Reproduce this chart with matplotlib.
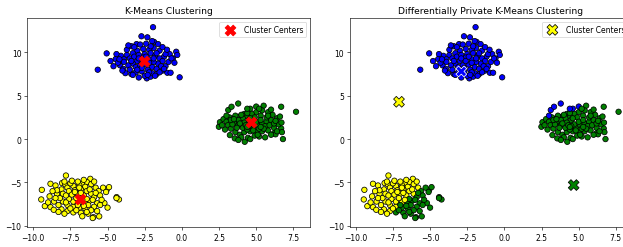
import matplotlib
matplotlib.use("Agg")
import matplotlib.pyplot as plt
import numpy as np

# points, one list per blob
blue_x = [-1.94, -2.72, -2.32, -1.87, -1.6, -3.39, -3.05, -5.06, -5.66, -0.15, -0.38, -0.31,
          -0.82, -0.6, -0.98, -0.76, -4.45, -4.05, -4.16, -3.94, -3.8, -3.4, -2.36, -2.1,
          -1.7, -1.3, -1.1, -0.9, -1.2, -1.5, -1.9, -2.2, -2.6, -3.0, -3.3, -3.7, -4.1,
          -3.9, -3.5, -3.2, -2.9, -2.5, -2.1, -1.8, -1.5, -1.3, -1.6, -1.9, -2.2, -2.6,
          -3.0, -3.3, -3.6, -4.3, -4.6, -3.1, -2.8, -2.4, -2.0, -1.7, -1.4, -2.3, -2.7,
          -3.1, -3.5, -2.0, -2.5, -1.5, -3.7, -2.8, -2.4, -2.0, -1.3, -0.7, -1.1, -4.4,
          -4.8, -2.9, -2.2, -1.9, -2.6, -3.4, -2.7, -1.2, -3.9, -4.2, -0.5, -1.0, -3.6,
          -2.1, -3.2, -1.7, -2.4, -3.0, -4.0, -2.2, -1.8, -3.3, -2.9, -2.3]
blue_y = [12.9, 11.85, 11.73, 11.2, 10.95, 10.7, 10.95, 9.88, 8.0, 7.12, 10.07, 9.7,
          9.8, 9.3, 7.65, 7.65, 9.23, 9.0, 8.5, 8.1, 7.6, 7.5, 7.0, 7.2,
          7.5, 7.9, 8.4, 8.9, 9.5, 10.2, 10.5, 10.3, 10.4, 10.2, 9.9, 9.7, 9.6,
          9.2, 9.3, 9.5, 9.7, 9.8, 9.9, 9.6, 9.3, 9.0, 8.7, 8.9, 9.2, 9.4,
          9.0, 8.7, 8.5, 8.8, 8.4, 8.3, 8.5, 8.6, 8.3, 8.1, 8.4, 8.0, 7.8,
          7.7, 8.0, 7.6, 7.3, 7.7, 10.3, 10.9, 11.0, 11.3, 10.6, 9.3, 9.8, 9.8,
          9.0, 9.3, 8.8, 9.3, 9.0, 9.0, 8.2, 8.1, 8.9, 9.2, 8.8, 10.3, 10.8,
          10.7, 10.6, 9.9, 9.5, 8.0, 7.9, 7.7, 7.3, 7.4, 7.1, 7.4]

green_x = [7.68, 6.68, 3.79, 3.12, 3.34, 2.49, 2.56, 2.8, 3.23, 3.56, 4.23, 4.45,
           6.68, 6.73, 6.8, 6.19, 6.3, 5.6, 5.2, 5.5, 5.0, 4.6, 4.2, 3.9,
           3.5, 3.2, 3.0, 3.1, 3.3, 3.6, 3.9, 4.2, 4.6, 5.0, 5.4, 5.8,
           6.2, 6.5, 6.7, 6.4, 6.1, 5.8, 5.4, 5.0, 4.7, 4.4, 4.1, 3.8,
           3.5, 3.8, 4.1, 4.4, 4.8, 5.1, 5.4, 5.7, 6.0, 5.7, 5.3, 4.9,
           4.5, 4.2, 3.9, 4.3, 4.7, 5.0, 5.3, 5.6, 5.9, 6.2, 6.0, 5.2,
           4.9, 4.0, 3.4, 2.9, 2.7, 3.6, 4.4, 5.2, 6.0, 6.3, 4.6, 4.0,
           3.3, 4.8, 5.5, 4.5, 3.7, 5.8, 6.6, 4.4, 3.0, 5.1, 4.6, 3.8,
           4.4, 3.5, 5.3, 6.4]
green_y = [3.15, 3.73, 4.1, 3.35, 3.73, 1.42, 1.95, 2.3, 0.46, 0.08, -0.31, 0.15,
           1.23, 0.8, 0.0, 0.66, 0.55, 0.2, 0.3, 3.85, 3.75, 3.5, 2.9, 2.6,
           2.4, 2.5, 2.0, 1.6, 1.2, 0.8, 0.5, 0.8, 0.9, 0.8, 0.9, 1.0,
           1.3, 1.7, 1.9, 2.4, 2.8, 3.1, 3.3, 3.1, 2.9, 2.6, 2.4, 2.2,
           1.9, 1.6, 1.3, 1.1, 1.3, 1.6, 1.8, 2.0, 2.2, 2.5, 2.7, 2.5,
           2.2, 1.9, 1.8, 1.6, 1.7, 2.0, 2.2, 1.5, 1.6, 1.8, 0.5, 1.2,
           0.4, 0.2, 1.7, 1.1, 1.6, 2.7, 3.0, 3.5, 3.4, 2.1, 2.4, 2.8,
           2.2, 1.0, 1.2, 1.5, 1.3, 2.7, 2.6, 3.5, 2.7, 0.5, 0.0, -0.1,
           1.4, 2.3, 1.4, 0.9]

yellow_x = [-7.8, -9.42, -9.46, -9.22, -8.84, -8.5, -8.06, -7.84, -8.84, -8.62, -6.16, -6.39,
            -6.72, -5.06, -4.9, -5.21, -4.39, -4.23, -5.95, -5.56, -6.3, -6.8, -7.3, -7.7,
            -8.1, -8.3, -8.6, -8.9, -8.4, -8.1, -7.7, -7.3, -6.9, -6.5, -6.1, -5.8,
            -5.6, -5.5, -5.4, -5.7, -5.9, -6.1, -6.5, -6.9, -7.3, -7.7, -8.0, -8.2,
            -8.0, -7.6, -7.2, -6.8, -6.4, -6.1, -5.9, -6.2, -6.5, -6.9, -7.3, -7.6,
            -7.8, -7.4, -7.0, -6.6, -6.4, -6.7, -7.1, -7.0, -6.3, -5.7, -7.5, -8.4,
            -7.9, -7.0, -6.6, -5.3, -5.1, -4.4, -5.0, -6.7, -7.9, -9.0, -8.7, -7.5,
            -6.2, -5.8, -6.0, -7.2, -7.8, -8.5, -6.8, -6.4, -7.1, -5.5, -6.9, -7.4,
            -5.9, -8.3, -6.0, -6.6]
yellow_y = [-4.2, -5.85, -6.96, -7.73, -5.15, -5.35, -5.07, -5.23, -7.84, -8.15, -4.58, -4.96,
            -5.15, -5.85, -5.54, -7.38, -6.69, -6.96, -9.0, -8.91, -8.6, -8.5, -8.45, -8.3,
            -8.1, -7.6, -7.2, -6.6, -6.3, -5.8, -5.6, -5.4, -5.3, -5.5, -5.2, -5.6,
            -6.0, -6.5, -7.0, -7.4, -7.8, -8.2, -8.0, -7.9, -7.8, -7.6, -7.2, -6.8,
            -6.3, -6.0, -5.9, -5.8, -6.0, -6.3, -6.7, -7.1, -7.4, -7.3, -7.2, -6.9,
            -6.5, -6.4, -6.3, -6.5, -6.9, -7.0, -6.8, -7.6, -7.6, -8.3, -8.0, -5.9,
            -4.9, -4.9, -4.7, -5.6, -6.1, -6.8, -7.9, -8.9, -8.6, -7.3, -6.0, -5.1,
            -5.8, -6.2, -7.0, -6.1, -7.3, -6.8, -6.2, -8.4, -8.2, -7.6, -5.6, -4.8,
            -4.9, -8.4, -9.1, -7.7]

# cluster centres (order: yellow, blue, green)
km_centers_x = [-6.82, -2.54, 4.65]
km_centers_y = [-6.85, 9.04, 1.92]
dp_centers_x = [-7.09, -2.9, 4.66]
dp_centers_y = [4.3, 7.8, -5.3]
label_colors = ['yellow', 'blue', 'green']
dp_edge = ['k', 'w', 'k']

X = np.column_stack([np.concatenate([yellow_x, blue_x, green_x]),
                     np.concatenate([yellow_y, blue_y, green_y])])


def assign(points, cx, cy):
    c = np.column_stack([cx, cy])
    d = ((points[:, None, :] - c[None, :, :]) ** 2).sum(axis=2)
    return d.argmin(axis=1)


km_labels = assign(X, km_centers_x, km_centers_y)
dp_labels = assign(X, dp_centers_x, dp_centers_y)

DPI = 55
fig = plt.figure(figsize=(623 / DPI, 248 / DPI), dpi=DPI)
ax1 = fig.add_axes([0.0433, 0.0794, 0.4543, 0.844])
ax2 = fig.add_axes([0.561, 0.0794, 0.4543, 0.844])

ax1.scatter(X[:, 0], X[:, 1], c=[label_colors[i] for i in km_labels], s=50, edgecolors='k')
ax1.scatter(km_centers_x, km_centers_y, c='red', marker='X', s=200, label='Cluster Centers')
ax1.set_title('K-Means Clustering')
ax1.legend(loc='upper right')

ax2.scatter(X[:, 0], X[:, 1], c=[label_colors[i] for i in dp_labels], s=50, edgecolors='k')
ax2.scatter(dp_centers_x, dp_centers_y, c=label_colors, edgecolors=dp_edge, marker='X', s=200,
            label='Cluster Centers')
ax2.set_title('Differentially Private K-Means Clustering')
ax2.legend(loc='upper right')

for ax in (ax1, ax2):
    ax.set_xlim(-10.42, 8.62)
    ax.set_ylim(-10.17, 13.96)
    ax.set_xticks([-10.0, -7.5, -5.0, -2.5, 0.0, 2.5, 5.0, 7.5])
    ax.set_yticks([-10, -5, 0, 5, 10])

fig.savefig('out.png', dpi=DPI)
